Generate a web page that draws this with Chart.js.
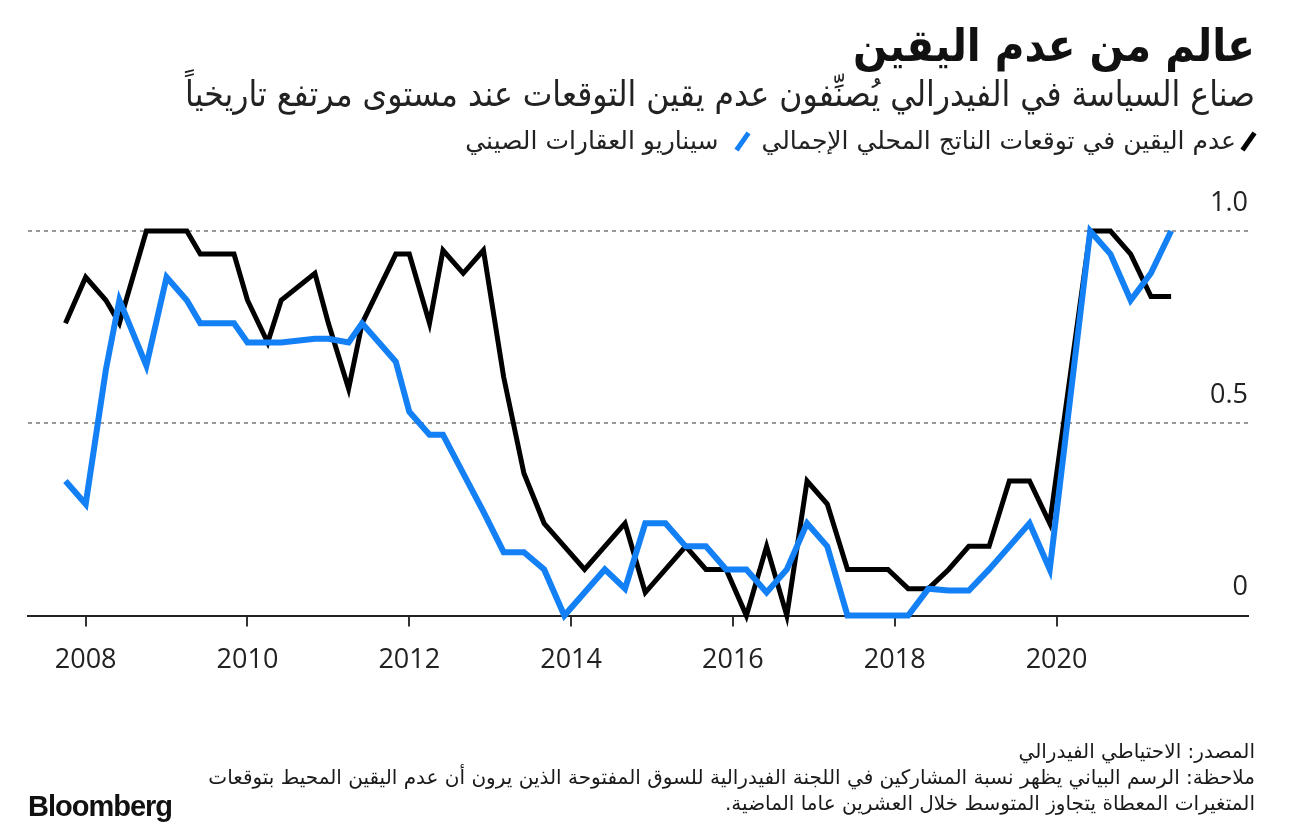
<!DOCTYPE html>
<html lang="ar">
<head>
<meta charset="utf-8">
<script src="https://cdn.jsdelivr.net/npm/chart.js@4.4.1/dist/chart.umd.min.js"></script>
<style>
  html, body { margin: 0; padding: 0; background: #fff; }
  body { width: 1297px; height: 835px; position: relative; overflow: hidden; }
  #chartCanvas { position: absolute; left: 0; top: 0; }
  .txt { position: absolute; right: 42px; direction: rtl; text-align: right; white-space: nowrap;
         font-family: "DejaVu Sans Condensed", "DejaVu Sans", sans-serif; color: #1a1a1a; }
  #title { top: 19px; font-size: 45px; font-weight: bold; color: #111; }
  #subtitle { top: 74px; font-size: 35px; color: #222; }
  #legend { top: 126px; font-size: 25px; color: #222; font-family: "DejaVu Sans", sans-serif; }
  .mark { display: inline-block; width: 5px; height: 21px; transform: rotate(35deg); margin: 0 16px 0 22px; vertical-align: -3px; }
  .mark.first { margin: 0 4px 0 10px; }
  #source { top: 739px; font-size: 20px; font-family: "DejaVu Sans", sans-serif; }
  #note { top: 764px; font-size: 20px; line-height: 26px; font-family: "DejaVu Sans", sans-serif; }
  #brand { position: absolute; left: 28px; top: 790px; font-family: "Liberation Sans", Arial, sans-serif;
           font-weight: bold; font-size: 29px; letter-spacing: -1px; color: #111; }
</style>
</head>
<body>
<canvas id="chartCanvas" width="1297" height="835"></canvas>
<div class="txt" id="title">عالم من عدم اليقين</div>
<div class="txt" id="subtitle">صناع السياسة في الفيدرالي يُصنِّفون عدم يقين التوقعات عند مستوى مرتفع تاريخياً</div>
<div class="txt" id="legend"><span class="mark first" style="background:#000"></span>عدم اليقين في توقعات الناتج المحلي الإجمالي<span class="mark" style="background:#1480f5"></span>سيناريو العقارات الصيني</div>
<div class="txt" id="source">المصدر: الاحتياطي الفيدرالي</div>
<div class="txt" id="note">ملاحظة: الرسم البياني يظهر نسبة المشاركين في اللجنة الفيدرالية للسوق المفتوحة الذين يرون أن عدم اليقين المحيط بتوقعات<br>المتغيرات المعطاة يتجاوز المتوسط خلال العشرين عاما الماضية.</div>
<div id="brand">Bloomberg</div>
<script>
// FOMC projection meeting months
const months = [
  '2007-10',
  '2008-01', '2008-04', '2008-06', '2008-10',
  '2009-01', '2009-04', '2009-06', '2009-11',
  '2010-01', '2010-04', '2010-06', '2010-11',
  '2011-01', '2011-04', '2011-06', '2011-11',
  '2012-01', '2012-04', '2012-06', '2012-09', '2012-12',
  '2013-03', '2013-06', '2013-09', '2013-12',
  '2014-03', '2014-06', '2014-09', '2014-12',
  '2015-03', '2015-06', '2015-09', '2015-12',
  '2016-03', '2016-06', '2016-09', '2016-12',
  '2017-03', '2017-06', '2017-09', '2017-12',
  '2018-03', '2018-06', '2018-09', '2018-12',
  '2019-03', '2019-06', '2019-09', '2019-12',
  '2020-06', '2020-09', '2020-12',
  '2021-03', '2021-06'
];

// black: GDP uncertainty
const gdpUncertainty = [
  0.76,
  0.88, 0.82, 0.76, 1.0,
  1.0, 1.0, 0.94, 0.94,
  0.82, 0.71, 0.82, 0.89,
  0.76, 0.59, 0.76, 0.94,
  0.94, 0.76, 0.95, 0.89, 0.95,
  0.62, 0.37, 0.24, 0.18,
  0.12, 0.18, 0.24, 0.06,
  0.12, 0.18, 0.12, 0.12,
  0.0, 0.18, 0.0, 0.35,
  0.29, 0.12, 0.12, 0.12,
  0.07, 0.07, 0.12, 0.18,
  0.18, 0.35, 0.35, 0.24,
  1.0, 1.0, 0.94,
  0.83, 0.83
];

// blue
const chinaScenario = [
  0.35,
  0.29, 0.64, 0.82, 0.65,
  0.88, 0.82, 0.76, 0.76,
  0.71, 0.71, 0.71, 0.72,
  0.72, 0.71, 0.76, 0.66,
  0.53, 0.47, 0.47, 0.37, 0.27,
  0.165, 0.165, 0.12, 0.0,
  0.06, 0.12, 0.07, 0.24,
  0.24, 0.18, 0.18, 0.12,
  0.12, 0.06, 0.12, 0.24,
  0.18, 0.0, 0.0, 0.0,
  0.0, 0.07, 0.065, 0.065,
  0.12, 0.18, 0.24, 0.12,
  1.0, 0.94, 0.82,
  0.89, 1.0
];

const xTicks = [2008, 2010, 2012, 2014, 2016, 2018, 2020];
const yTicks = [0, 0.5, 1.0];

function toYear(m) {
  const [y, mo] = m.split('-').map(Number);
  return y + (mo - 1) / 12;
}

const ctx = document.getElementById('chartCanvas').getContext('2d');
new Chart(ctx, {
  type: 'line',
  data: {
    datasets: [
      {
        label: 'سيناريو العقارات الصيني',
        data: months.map((m, i) => ({ x: toYear(m), y: chinaScenario[i] })),
        borderColor: '#1480f5',
        borderWidth: 6,
        pointRadius: 0,
        tension: 0,
        clip: false
      },
      {
        label: 'عدم اليقين في توقعات الناتج المحلي الإجمالي',
        data: months.map((m, i) => ({ x: toYear(m), y: gdpUncertainty[i] })),
        borderColor: '#000',
        borderWidth: 5,
        pointRadius: 0,
        tension: 0,
        clip: false
      }
    ]
  },
  options: {
    responsive: false,
    animation: false,
    layout: { padding: { left: 28, right: 49, top: 231, bottom: 140 } },
    plugins: { legend: { display: false }, tooltip: { enabled: false } },
    scales: {
      x: {
        type: 'linear',
        min: 2007.287,
        max: 2022.367,
        afterBuildTicks: axis => { axis.ticks = xTicks.map(v => ({ value: v })); },
        ticks: {
          callback: v => String(v),
          color: '#222',
          padding: 18,
          maxRotation: 0,
          font: { family: 'Open Sans', size: 27 }
        },
        grid: { drawOnChartArea: false, drawTicks: true, tickLength: 11, color: '#333', lineWidth: 2 },
        border: { display: true, color: '#222', width: 2 }
      },
      y: {
        position: 'right',
        min: 0,
        max: 1,
        afterBuildTicks: axis => { axis.ticks = yTicks.map(v => ({ value: v })); },
        ticks: {
          mirror: true,
          padding: 0,
          labelOffset: -28,
          color: '#222',
          font: { family: 'Open Sans', size: 27 },
          callback: v => (v === 0 ? '0' : v.toFixed(1))
        },
        grid: {
          drawTicks: false,
          color: c => (c.tick && c.tick.value === 0 ? 'rgba(0,0,0,0)' : '#9a9a9a'),
          lineWidth: 2
        },
        border: { display: false, dash: [4, 4] }
      }
    }
  }
});
</script>
</body>
</html>
